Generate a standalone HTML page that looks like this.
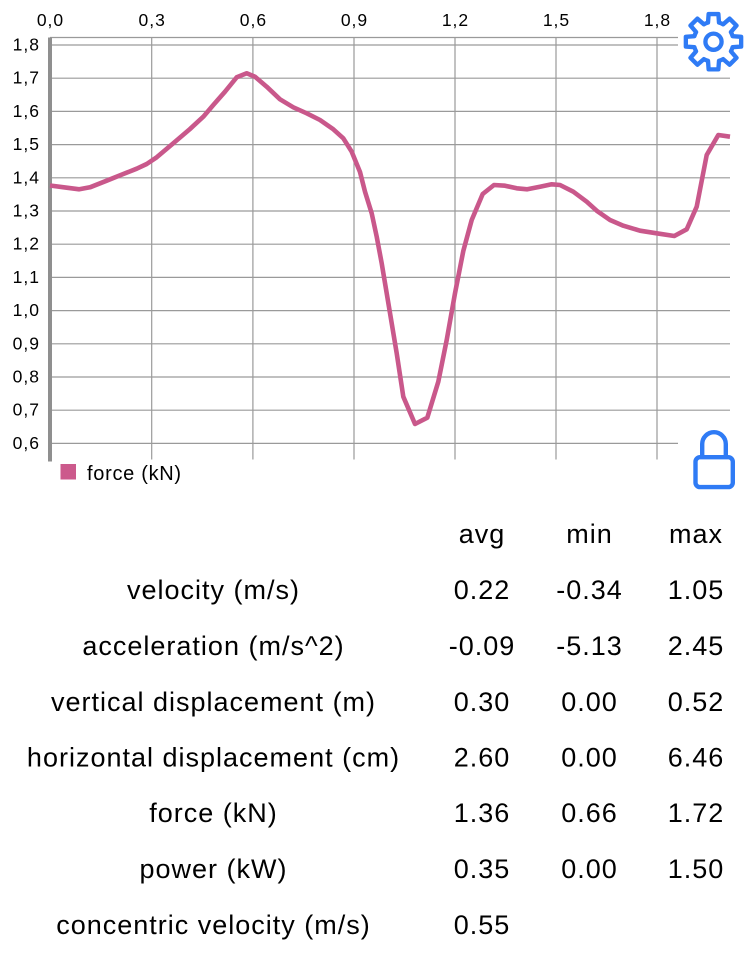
<!DOCTYPE html>
<html>
<head>
<meta charset="utf-8">
<style>
  html, body { margin: 0; padding: 0; background: #ffffff; }
  body { width: 750px; height: 956px; overflow: hidden; }
  svg { display: block; }
  text { font-family: "Liberation Sans", "DejaVu Sans", sans-serif; fill: #000; }
</style>
</head>
<body>
<svg width="750" height="956" viewBox="0 0 750 956" xmlns="http://www.w3.org/2000/svg">
  <rect x="0" y="0" width="750" height="956" fill="#ffffff"/>

  <!-- horizontal grid lines -->
  <g stroke="#9a9a9a" stroke-width="1.2" fill="none">
    <line x1="50" y1="37.5" x2="678" y2="37.5"/>
    <line x1="50" y1="45" x2="678" y2="45"/>
    <line x1="50" y1="78.2" x2="730" y2="78.2"/>
    <line x1="50" y1="111.4" x2="730" y2="111.4"/>
    <line x1="50" y1="144.6" x2="730" y2="144.6"/>
    <line x1="50" y1="177.8" x2="730" y2="177.8"/>
    <line x1="50" y1="211" x2="730" y2="211"/>
    <line x1="50" y1="244.2" x2="730" y2="244.2"/>
    <line x1="50" y1="277.4" x2="730" y2="277.4"/>
    <line x1="50" y1="310.6" x2="730" y2="310.6"/>
    <line x1="50" y1="343.8" x2="730" y2="343.8"/>
    <line x1="50" y1="377" x2="730" y2="377"/>
    <line x1="50" y1="410.2" x2="730" y2="410.2"/>
    <line x1="50" y1="443.4" x2="678" y2="443.4"/>
    <!-- vertical grid lines -->
    <line x1="151.7" y1="37.5" x2="151.7" y2="459.5"/>
    <line x1="252.9" y1="37.5" x2="252.9" y2="459.5"/>
    <line x1="354" y1="37.5" x2="354" y2="459.5"/>
    <line x1="455" y1="37.5" x2="455" y2="459.5"/>
    <line x1="556" y1="37.5" x2="556" y2="459.5"/>
    <line x1="657" y1="37.5" x2="657" y2="459.5"/>
  </g>

  <!-- left axis -->
  <rect x="48" y="37.5" width="4" height="424" fill="#8f8f8f"/>

  <!-- x labels (top) -->
  <g font-size="17.5" text-anchor="middle" letter-spacing="1">
    <text x="50.5" y="26">0,0</text>
    <text x="152.2" y="26">0,3</text>
    <text x="253.4" y="26">0,6</text>
    <text x="354.5" y="26">0,9</text>
    <text x="455.5" y="26">1,2</text>
    <text x="556.5" y="26">1,5</text>
    <text x="657.5" y="26">1,8</text>
  </g>

  <!-- y labels -->
  <g font-size="17.5" text-anchor="end" letter-spacing="1">
    <text x="40" y="50.5">1,8</text>
    <text x="40" y="83.7">1,7</text>
    <text x="40" y="116.9">1,6</text>
    <text x="40" y="150.1">1,5</text>
    <text x="40" y="183.3">1,4</text>
    <text x="40" y="216.5">1,3</text>
    <text x="40" y="249.7">1,2</text>
    <text x="40" y="282.9">1,1</text>
    <text x="40" y="316.1">1,0</text>
    <text x="40" y="349.3">0,9</text>
    <text x="40" y="382.5">0,8</text>
    <text x="40" y="415.7">0,7</text>
    <text x="40" y="448.9">0,6</text>
  </g>

  <!-- force curve -->
  <polyline fill="none" stroke="#C9588B" stroke-width="4.6" stroke-linejoin="round" stroke-linecap="butt"
    points="50,185.5 66.7,187.7 79.3,189.3 90,187.3 106.7,180.7 123.3,174 136.7,168.7 146.7,164 156.7,157.3 173.3,143.3 190,129 203.3,116.7 213.3,105 225,91.7 236.7,77.3 246.7,73.3 255,76.7 266.7,86.7 280,99.3 293.3,107.3 306.7,113.3 320,120 333.3,129.3 343.3,138.3 351.7,151.7 360,172 365,191.7 371.7,213.3 376.7,236.7 381.7,263.3 386.7,293.3 391.7,323.3 396.7,353.3 403.3,396.7 415,424 427.3,417.7 438.3,381.7 446.7,340 455,293.3 463.3,251 471.7,220 482.7,194 494,185 505,185.7 516.7,188.3 527.3,189.3 540,186.7 551.7,184.3 560,185 573.3,191.7 586.7,201.7 596.7,210.7 610,220 623.3,225.7 640,230.7 656.7,233.3 674.3,236 686.7,229.3 696.7,206.7 706.7,155 718.3,135 730,136.7"/>

  <!-- legend -->
  <rect x="60.5" y="464" width="15.5" height="15.5" fill="#CC5A8C"/>
  <text x="87" y="480" font-size="20" letter-spacing="0.7">force (kN)</text>

  <!-- gear icon -->
  <g transform="translate(713.5,41.7) scale(1.17)" fill="none" stroke="#2F7BF5" stroke-width="3.7" stroke-linejoin="round">
    <path d="M16.34,-4.69 L23.64,-4.17 L23.64,4.17 L16.34,4.69 A17,17 0 0 1 14.87,8.24 L19.66,13.77 L13.77,19.66 L8.24,14.87 A17,17 0 0 1 4.69,16.34 L4.17,23.64 L-4.17,23.64 L-4.69,16.34 A17,17 0 0 1 -8.24,14.87 L-13.77,19.66 L-19.66,13.77 L-14.87,8.24 A17,17 0 0 1 -16.34,4.69 L-23.64,4.17 L-23.64,-4.17 L-16.34,-4.69 A17,17 0 0 1 -14.87,-8.24 L-19.66,-13.77 L-13.77,-19.66 L-8.24,-14.87 A17,17 0 0 1 -4.69,-16.34 L-4.17,-23.64 L4.17,-23.64 L4.69,-16.34 A17,17 0 0 1 8.24,-14.87 L13.77,-19.66 L19.66,-13.77 L14.87,-8.24 A17,17 0 0 1 16.34,-4.69 Z"/>
    <circle cx="0" cy="0" r="6.9"/>
  </g>

  <!-- lock icon -->
  <g fill="none" stroke="#2F7BF5" stroke-width="4.4" stroke-linejoin="round">
    <path d="M702.2,457 V444 A11.8,11.8 0 0 1 725.8,444 V457"/>
    <rect x="695.5" y="457.2" width="37.3" height="29.9" rx="4.5" ry="4.5"/>
  </g>

  <!-- table -->
  <g font-size="27" letter-spacing="1" text-anchor="middle">
    <text x="482" y="543">avg</text>
    <text x="589.5" y="543">min</text>
    <text x="696" y="543">max</text>

    <text x="213.5" y="599">velocity (m/s)</text>
    <text x="482" y="599">0.22</text>
    <text x="589.5" y="599">-0.34</text>
    <text x="696" y="599">1.05</text>

    <text x="213.5" y="655">acceleration (m/s^2)</text>
    <text x="482" y="655">-0.09</text>
    <text x="589.5" y="655">-5.13</text>
    <text x="696" y="655">2.45</text>

    <text x="213.5" y="711">vertical displacement (m)</text>
    <text x="482" y="711">0.30</text>
    <text x="589.5" y="711">0.00</text>
    <text x="696" y="711">0.52</text>

    <text x="213.5" y="766.5">horizontal displacement (cm)</text>
    <text x="482" y="766.5">2.60</text>
    <text x="589.5" y="766.5">0.00</text>
    <text x="696" y="766.5">6.46</text>

    <text x="213.5" y="822">force (kN)</text>
    <text x="482" y="822">1.36</text>
    <text x="589.5" y="822">0.66</text>
    <text x="696" y="822">1.72</text>

    <text x="213.5" y="878">power (kW)</text>
    <text x="482" y="878">0.35</text>
    <text x="589.5" y="878">0.00</text>
    <text x="696" y="878">1.50</text>

    <text x="213.5" y="934">concentric velocity (m/s)</text>
    <text x="482" y="934">0.55</text>
  </g>
</svg>
</body>
</html>
